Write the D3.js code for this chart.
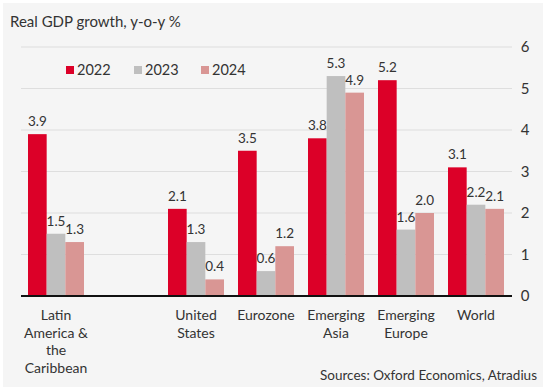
<!DOCTYPE html>
<html><head><meta charset="utf-8">
<script src="https://cdn.jsdelivr.net/npm/d3@7/dist/d3.min.js"></script>
<style>html,body{margin:0;padding:0;background:#fff;}svg{display:block;font-family:Lato,sans-serif;}</style>
</head><body><svg id="c" width="546" height="390"></svg>
<script>
const categories = [["Latin","America &","the","Caribbean"], [], ["United","States"], ["Eurozone"], ["Emerging","Asia"], ["Emerging","Europe"], ["World"]];
const categoryKeys = ["Latin America & the Caribbean", "", "United States", "Eurozone", "Emerging Asia", "Emerging Europe", "World"];
const seriesNames = ["2022", "2023", "2024"];
const values2022 = [3.9, null, 2.1, 3.5, 3.8, 5.2, 3.1];
const values2023 = [1.5, null, 1.3, 0.6, 5.3, 1.6, 2.2];
const values2024 = [1.3, null, 0.4, 1.2, 4.9, 2.0, 2.1];
const yTicks = [0, 1, 2, 3, 4, 5, 6];
const colors = ["#dc0028", "#bfbfbf", "#d99694"];
const FONT = "Lato,sans-serif";

const svg = d3.select("#c");
svg.append("rect").attr("x", 3).attr("y", 3).attr("width", 540).attr("height", 384).attr("fill", "#f5f5f5");

const x = d3.scaleBand().domain(categoryKeys).range([21, 511]).paddingInner(0.2).paddingOuter(0.1);
const xs = d3.scaleBand().domain(seriesNames).range([0, x.bandwidth()]);
const y = d3.scaleLinear().domain([0, 6]).range([296, 47]);

// gridlines
svg.append("g").selectAll("line").data(yTicks.filter(t => t > 0)).join("line")
  .attr("x1", 21).attr("x2", 512).attr("y1", d => y(d)).attr("y2", d => y(d))
  .attr("stroke", "#dedede").attr("stroke-width", 1.2);

// y axis labels
const yAxis = d3.axisRight(y).tickValues(yTicks).tickSize(0).tickPadding(0).tickFormat(d3.format("d"));
const gy = svg.append("g").attr("transform", "translate(525,0)").call(yAxis);
gy.select(".domain").remove();
gy.selectAll("text").attr("text-anchor", "middle").attr("font-size", 15).attr("fill", "#333").attr("font-family", FONT);

const data = [values2022, values2023, values2024];
const groups = svg.append("g");
categoryKeys.forEach((cat, i) => {
  seriesNames.forEach((s, j) => {
    const v = data[j][i];
    if (v == null) return;
    groups.append("rect")
      .attr("x", x(cat) + xs(s)).attr("width", xs.bandwidth())
      .attr("y", y(v)).attr("height", y(0) - y(v))
      .attr("fill", colors[j]);
    groups.append("text")
      .attr("x", x(cat) + xs(s) + xs.bandwidth() / 2)
      .attr("y", y(v) - 8)
      .attr("text-anchor", "middle").attr("font-size", 13.5).attr("fill", "#333")
      .text(d3.format(".1f")(v));
  });
});

// baseline
svg.append("line").attr("x1", 21).attr("x2", 512).attr("y1", y(0)).attr("y2", y(0))
  .attr("stroke", "#111").attr("stroke-width", 2);

// category labels
categoryKeys.forEach((cat, i) => {
  const t = svg.append("text").attr("text-anchor", "middle").attr("font-size", 14).attr("fill", "#333");
  categories[i].forEach((line, k) => {
    t.append("tspan").attr("x", x(cat) + x.bandwidth() / 2).attr("y", 320 + k * 17.5).text(line);
  });
});

// title
svg.append("text").attr("x", 10).attr("y", 27).attr("font-size", 15).attr("fill", "#333").text("Real GDP growth, y-o-y %");

// legend
const legX = [66, 134, 201];
seriesNames.forEach((s, j) => {
  svg.append("rect").attr("x", legX[j]).attr("y", 66).attr("width", 8).attr("height", 8).attr("fill", colors[j]);
  svg.append("text").attr("x", legX[j] + 11).attr("y", 75).attr("font-size", 14.5).attr("fill", "#333").text(s);
});

// source
svg.append("text").attr("x", 537).attr("y", 380).attr("text-anchor", "end").attr("font-size", 13.5).attr("fill", "#333")
  .text("Sources: Oxford Economics, Atradius");
</script></body></html>
